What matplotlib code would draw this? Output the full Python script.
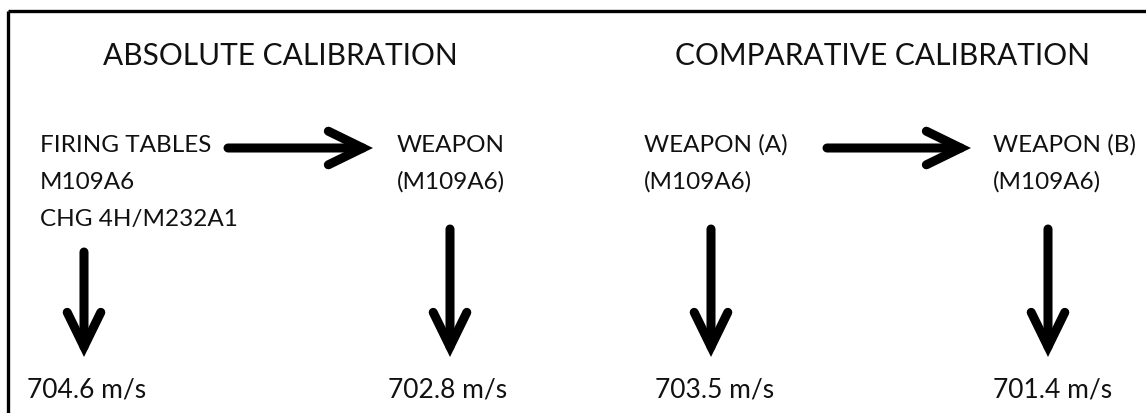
"""Calibration diagram: absolute vs comparative muzzle velocity calibration."""
import matplotlib
matplotlib.use("Agg")
import matplotlib.pyplot as plt
from matplotlib.patches import FancyArrowPatch

plt.rcParams["font.family"] = ["Lato", "DejaVu Sans"]

# content
titles = ["ABSOLUTE CALIBRATION", "COMPARATIVE CALIBRATION"]
sources = [
    ["FIRING TABLES", "M109A6", "CHG 4H/M232A1"],
    ["WEAPON", "(M109A6)"],
    ["WEAPON (A)", "(M109A6)"],
    ["WEAPON (B)", "(M109A6)"],
]
velocities = ["704.6 m/s", "702.8 m/s", "703.5 m/s", "701.4 m/s"]

# layout (pixel coords, y downwards)
W, H = 1146, 414
title_x = [103, 675]
col_x = [40, 397, 644, 993]
val_x = [27, 388, 655, 993]
down_x = [84, 450, 711, 1048]
down_top = [253, 230, 230, 230]
down_tip = 358
row_base = [152, 189, 226]
right_arrows = [(228, 373), (827, 971)]
right_y = 149

fig = plt.figure(figsize=(W / 100, H / 100), dpi=100)
ax = fig.add_axes([0, 0, 1, 1])
ax.set_xlim(0, W)
ax.set_ylim(H, 0)
ax.axis("off")

# cropped frame: top and left edges only
ax.plot([8, W], [12, 12], color="black", lw=2.4, solid_capstyle="butt")
ax.plot([8, 8], [12, H], color="black", lw=2.4, solid_capstyle="butt")

for x, t in zip(title_x, titles):
    ax.text(x, 65, t, fontsize=21.5, va="baseline", ha="left", color="#111111")

for x, lines in zip(col_x, sources):
    for i, s in enumerate(lines):
        ax.text(x, row_base[i], s, fontsize=17.5, va="baseline", ha="left",
                color="#111111")

for x, v in zip(val_x, velocities):
    ax.text(x, 398, v, fontsize=19, va="baseline", ha="left", color="#111111")


def arrow(p0, p1):
    a = FancyArrowPatch(p0, p1, arrowstyle="->,head_length=0.45,head_width=0.22",
                        mutation_scale=55, lw=6.5, color="black",
                        capstyle="round", joinstyle="miter",
                        shrinkA=0, shrinkB=0)
    ax.add_patch(a)


for x0, x1 in right_arrows:
    arrow((x0, right_y), (x1, right_y))

for x, top in zip(down_x, down_top):
    arrow((x, top), (x, down_tip))

fig.savefig("out.png", dpi=100)
plt.close(fig)
